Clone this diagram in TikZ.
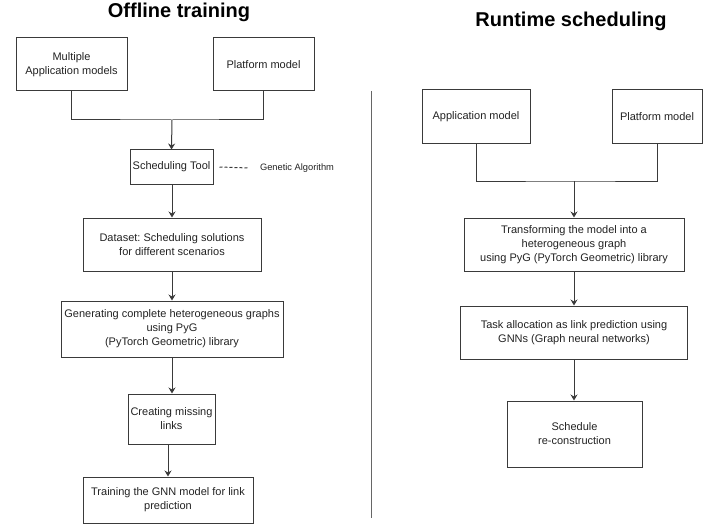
\documentclass[tikz,border=0pt]{standalone}
\usepackage{fontspec}
\setmainfont{Liberation Sans}
\usetikzlibrary{arrows.meta}
\frenchspacing
\definecolor{linec}{HTML}{3A3A3A}
\definecolor{textc}{HTML}{222222}
\tikzset{
  box/.style={draw=linec, line width=1pt, rectangle, inner sep=0pt, align=center,
    text=textc, font=\fontsize{11}{14}\selectfont},
  conn/.style={draw=linec, line width=1pt},
  arr/.style={conn, -{Stealth[length=6pt,width=7pt,inset=2pt]}},
  ttl/.style={font=\fontsize{20}{24}\selectfont\bfseries, text=black, inner sep=0pt},
}
\begin{document}
\begin{tikzpicture}[x=1pt,y=-1pt]
\useasboundingbox (0,0) rectangle (723,524);
% titles
\node[ttl] (t1) at (179,12) {Offline training};
\node[ttl] (t2) at (571,21) {Runtime scheduling};
% separator
\coordinate (s1) at (371,91);
\coordinate (s2) at (371,518);
\draw[draw=black!60, line width=1pt] (s1) -- (s2);
% left column
\node[box, minimum width=111, minimum height=53] (app1) at (71.5,64.5) {Multiple\\Application models};
\node[box, minimum width=101, minimum height=53] (plat1) at (263.5,64.5) {Platform model};
\node[box, minimum width=83, minimum height=34] (sched) at (171.5,167) {Scheduling Tool};
\node[text=textc, font=\fontsize{9.3}{11}\selectfont, inner sep=0pt] (ga) at (297,168) {Genetic Algorithm};
\node[box, minimum width=178, minimum height=53] (data) at (172,244.5) {Dataset: Scheduling solutions\\for different scenarios};
\node[box, minimum width=222, minimum height=56] (gen) at (172,329) {Generating complete heterogeneous graphs\\using PyG\\(PyTorch Geometric) library};
\node[box, minimum width=87, minimum height=50] (miss) at (171.5,419) {Creating missing\\links};
\node[box, minimum width=170, minimum height=46] (train) at (168,500) {Training the GNN model for link\\prediction};
\coordinate (j1) at (172,120);
\draw[conn] (app1.south) |- (j1) -| (plat1.south);
\draw[arr] (j1) -- (sched.north);
\draw[conn, dash pattern=on 3pt off 2pt] ([xshift=6]sched.east) -- ([xshift=-11]ga.west);
\draw[arr] (sched.south -| data.north) -- (data.north);
\draw[arr] (data.south) -- (gen.north);
\draw[arr] (gen.south) -- (miss.north -| gen.south);
\draw[arr] (miss.south -| train.north) -- (train.north);
% right column
\node[box, minimum width=108, minimum height=54] (app2) at (476,117) {Application model};
\node[box, minimum width=90, minimum height=54] (plat2) at (657,117) {Platform model};
\node[box, minimum width=220, minimum height=53] (trans) at (574,244.5) {Transforming the model into a\\heterogeneous graph\\using PyG (PyTorch Geometric) library};
\node[box, minimum width=227, minimum height=53] (task) at (574,332.5) {Task allocation as link prediction using\\GNNs (Graph neural networks)};
\node[box, minimum width=135, minimum height=66] (sched2) at (574.5,434) {Schedule\\re-construction};
\coordinate (j2) at (574,181);
\draw[conn] (app2.south) |- (j2) -| (plat2.south);
\draw[arr] (j2) -- (trans.north);
\draw[arr] (trans.south) -- (task.north);
\draw[arr] (task.south) -- (task.south |- sched2.north);
\end{tikzpicture}
\end{document}
